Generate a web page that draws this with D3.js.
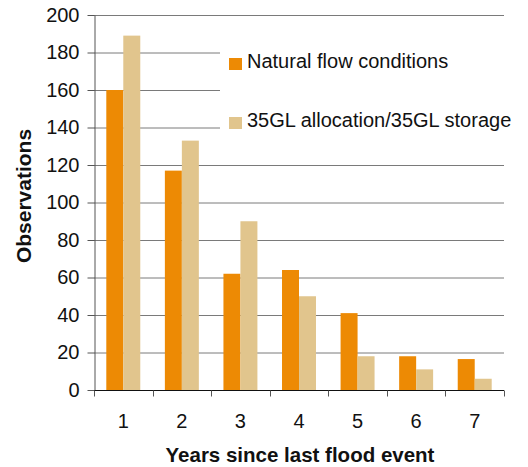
<!DOCTYPE html>
<head>
  <meta charset='utf-8'>
  <script src='https://d3js.org/d3.v7.min.js'></script>
  <style>
    body { margin: 0; background: #fff; }
    svg { font-family: 'Liberation Sans', Arial, sans-serif; }
  </style>
</head>

<body>
  <script>

const years = ['1', '2', '3', '4', '5', '6', '7'];
const natural = [160, 117, 62, 64, 41, 18, 16.5];
const storage = [189, 133, 90, 50, 18, 11, 6];
const seriesNames = ['Natural flow conditions', '35GL allocation/35GL storage'];
const yTicks = [0, 20, 40, 60, 80, 100, 120, 140, 160, 180, 200];

const width = 528,
  height = 467,
  plotLeft = 94,
  plotRight = 504,
  plotTop = 15,
  plotBottom = 390,
  svg = d3.select('body').append('svg').attr('width', width).attr('height', height);

const x0 = d3.scaleBand()
  .domain(years)
  .range([plotLeft, plotRight])
  .paddingInner(.42)
  .paddingOuter(.21);

const x1 = d3.scaleBand()
  .domain(seriesNames)
  .range([0, x0.bandwidth()]);

const y = d3.scaleLinear()
  .domain([0, 200])
  .range([plotBottom, plotTop]);

const z = d3.scaleOrdinal()
  .domain(seriesNames)
  .range(['#ED8A04', '#E1C58D']);

// gridlines
svg.append('g')
  .selectAll('line')
  .data(yTicks.slice(1))
  .enter().append('line')
  .attr('x1', plotLeft).attr('x2', plotRight)
  .attr('y1', d => y(d) + .5).attr('y2', d => y(d) + .5)
  .attr('stroke', '#7a7a7a');

// white legend box hides the gridlines under it
svg.append('rect')
  .attr('x', 220).attr('y', 38)
  .attr('width', 300).attr('height', 105)
  .attr('fill', '#fff');

const rows = years.map((yr, i) => ({year: yr, values: [natural[i], storage[i]]}));

svg.append('g')
  .selectAll('g')
  .data(rows)
  .enter().append('g')
  .attr('transform', d => 'translate(' + x0(d.year) + ',0)')
  .selectAll('rect')
  .data(d => seriesNames.map((k, j) => ({key: k, value: d.values[j]})))
  .enter().append('rect')
  .attr('x', d => x1(d.key))
  .attr('y', d => y(d.value))
  .attr('width', x1.bandwidth())
  .attr('height', d => plotBottom - y(d.value))
  .attr('fill', d => z(d.key));

// y axis
const yAxis = svg.append('g')
  .attr('transform', 'translate(' + (plotLeft + .5) + ',0)')
  .call(d3.axisLeft(y).tickValues(yTicks).tickSize(7).tickPadding(8).tickSizeOuter(0));
yAxis.select('.domain').attr('stroke', '#555');
yAxis.selectAll('.tick line').attr('stroke', '#555');
yAxis.selectAll('.tick text').attr('font-size', 20).attr('fill', '#111')
  .attr('font-family', "'Liberation Sans', Arial, sans-serif");

// x axis: ticks on band boundaries
const step = x0.step();
const edges = years.map(d => x0(d) - x0.paddingOuter() * step).concat([plotRight]);
const xAxis = svg.append('g').attr('transform', 'translate(0,' + (plotBottom + .5) + ')');
xAxis.append('line').attr('x1', plotLeft).attr('x2', plotRight).attr('stroke', '#111');
xAxis.selectAll('.edge')
  .data(edges)
  .enter().append('line')
  .attr('x1', d => Math.round(d) + .5).attr('x2', d => Math.round(d) + .5)
  .attr('y1', 0).attr('y2', 6)
  .attr('stroke', '#555');
xAxis.selectAll('text')
  .data(years)
  .enter().append('text')
  .attr('x', d => x0(d) + x0.bandwidth() / 2)
  .attr('y', 37)
  .attr('text-anchor', 'middle')
  .attr('font-size', 20)
  .attr('fill', '#111')
  .text(d => d);

// axis titles
svg.append('text')
  .attr('x', 300).attr('y', 462)
  .attr('text-anchor', 'middle')
  .attr('font-size', 20.5)
  .attr('font-weight', 'bold')
  .attr('fill', '#111')
  .text('Years since last flood event');

svg.append('text')
  .attr('transform', 'translate(31,196) rotate(-90)')
  .attr('text-anchor', 'middle')
  .attr('font-size', 21)
  .attr('font-weight', 'bold')
  .attr('fill', '#111')
  .text('Observations');

// legend
const legend = svg.append('g')
  .selectAll('g')
  .data(seriesNames)
  .enter().append('g')
  .attr('transform', (d, i) => 'translate(229,' + (58 + i * 59) + ')');

legend.append('rect')
  .attr('width', 13)
  .attr('height', 12)
  .attr('fill', z);

legend.append('text')
  .attr('x', 18)
  .attr('y', 10)
  .attr('font-size', 20)
  .attr('fill', '#111')
  .text(d => d);

  </script>
</body>
